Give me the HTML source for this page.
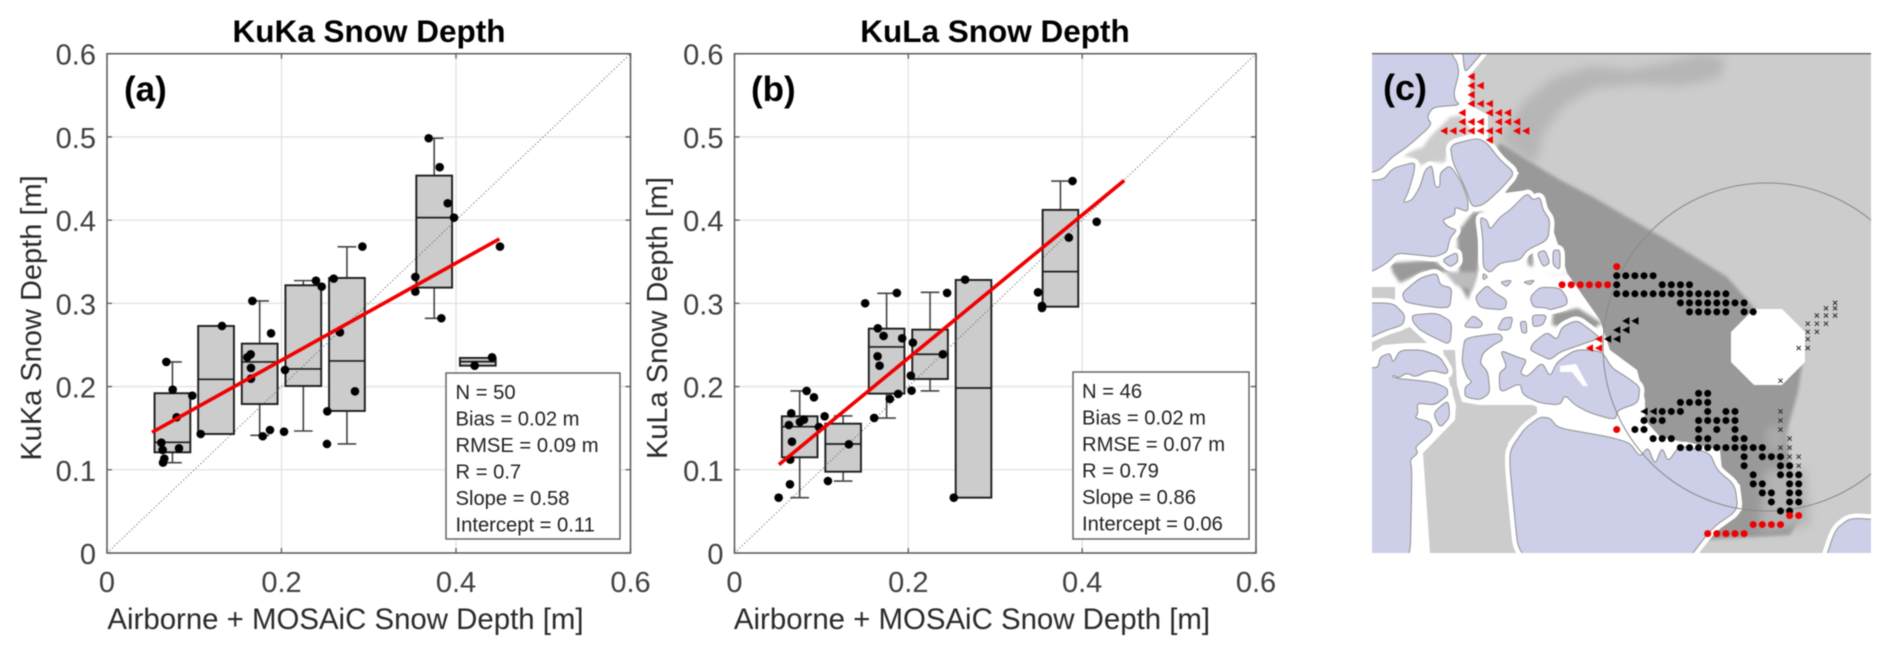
<!DOCTYPE html>
<html lang="en">
<head>
<meta charset="utf-8">
<title>KuKa and KuLa Snow Depth</title>
<style>
html,body{margin:0;padding:0;background:#fff;width:1892px;height:659px;overflow:hidden}
#fig{display:block;filter:blur(0.4px);font-family:"Liberation Sans",Arial,sans-serif}
</style>
</head>
<body>
<svg id="fig" xmlns="http://www.w3.org/2000/svg" width="1892" height="659" viewBox="0 0 1892 659">
  <rect width="1892" height="659" fill="#fff"/>
  <g id="panel-a"></g>
  <g id="panel-b"></g>

  <text x="369" y="42" font-size="31.5" font-weight="bold" text-anchor="middle" fill="#000">KuKa Snow Depth</text>
  <text x="995" y="42" font-size="31.5" font-weight="bold" text-anchor="middle" fill="#000">KuLa Snow Depth</text>
  <text x="345.5" y="629" font-size="29.4" text-anchor="middle" fill="#2a2a2a">Airborne + MOSAiC Snow Depth [m]</text>
  <text x="972" y="629" font-size="29.4" text-anchor="middle" fill="#2a2a2a">Airborne + MOSAiC Snow Depth [m]</text>
  <text transform="translate(41,318) rotate(-90)" font-size="29" text-anchor="middle" fill="#2a2a2a">KuKa Snow Depth [m]</text>
  <text transform="translate(667,318) rotate(-90)" font-size="29" text-anchor="middle" fill="#2a2a2a">KuLa Snow Depth [m]</text>
  <text x="124" y="101" font-size="35" font-weight="bold" fill="#000">(a)</text>
  <text x="751" y="101" font-size="35" font-weight="bold" fill="#000">(b)</text>

  <g id="stats-a">
    <rect x="446" y="373" width="174" height="166" fill="#fff" stroke="#666" stroke-width="1.5"/>
    <g font-size="20.2" fill="#222">
      <text x="455.5" y="399">N = 50</text>
      <text x="455.5" y="425.5">Bias = 0.02 m</text>
      <text x="455.5" y="452">RMSE = 0.09 m</text>
      <text x="455.5" y="478.5">R = 0.7</text>
      <text x="455.5" y="505">Slope = 0.58</text>
      <text x="455.5" y="531.5">Intercept = 0.11</text>
    </g>
  </g>
  <g id="stats-b">
    <rect x="1073" y="372" width="176" height="167" fill="#fff" stroke="#666" stroke-width="1.5"/>
    <g font-size="20.2" fill="#222">
      <text x="1082" y="398">N = 46</text>
      <text x="1082" y="424.5">Bias = 0.02 m</text>
      <text x="1082" y="451">RMSE = 0.07 m</text>
      <text x="1082" y="477.5">R = 0.79</text>
      <text x="1082" y="504">Slope = 0.86</text>
      <text x="1082" y="530.5">Intercept = 0.06</text>
    </g>
  </g>

  <defs>
    <clipPath id="map-clip"><rect x="1372" y="53" width="499" height="500"/></clipPath>
    <filter id="soft" x="-30%" y="-30%" width="160%" height="160%"><feGaussianBlur stdDeviation="5"/></filter>
    <filter id="soft2" x="-30%" y="-30%" width="160%" height="160%"><feGaussianBlur stdDeviation="1.5"/></filter>
    <g id="lands">
      <path d="M1360 43L1452 43L1452 55L1457 62L1459 73L1454 92L1455 100L1460 105L1433 107L1427 117L1432 125L1407 147L1392 157L1380 170L1360 176Z"/>
      <path d="M1462 43L1490 43L1466 72L1464 67Z"/>
      <path d="M1360 180L1383 180L1393 168L1415 162L1414 173L1408 193L1403 203L1412 200L1420 187L1425 170L1432 165L1435 187L1440 187L1440 173L1450 165L1462 183L1468 200L1468 212L1455 207L1455 215L1442 220L1448 227L1457 230L1450 238L1447 252L1435 257L1418 255L1397 253L1387 263L1373 271L1360 275Z"/>
      <path d="M1450 145L1477 138L1487 143L1500 160L1515 173L1500 190L1483 205L1472 207L1465 187L1453 163Z"/>
      <path d="M1480 217L1487 220L1490 230L1500 217L1510 210L1527 193L1533 200L1540 197L1543 210L1550 220L1548 240L1527 250L1520 260L1500 263L1490 273L1483 267L1483 240Z"/>
      <path d="M1402 293L1420 278L1437 273L1440 285L1452 288L1450 307L1440 308L1420 305L1405 302Z"/>
      <path d="M1442 260L1457 252L1458 262L1450 267Z"/>
      <path d="M1360 303L1393 303L1405 315L1403 325L1387 330L1360 342Z"/>
      <path d="M1412 315L1437 313L1452 322L1450 345L1433 337L1420 330L1413 322Z"/>
      <path d="M1360 367L1378 368L1380 357L1390 353L1393 363L1400 350L1423 350L1440 357L1448 370L1447 374L1430 370L1415 377L1407 373L1398 378L1393 375L1393 378L1433 382L1447 388L1448 395L1435 405L1417 403L1418 413L1415 418L1430 422L1433 432L1415 447L1418 453L1410 460L1412 470L1410 570L1360 570Z"/>
      <path d="M1433 413L1448 400L1450 417L1440 428Z"/>
      <path d="M1465 338L1500 333L1503 340L1493 345L1483 353L1480 363L1488 372L1490 393L1480 400L1465 397L1465 387L1472 382L1467 377L1462 363L1463 350Z"/>
      <path d="M1500 350L1517 357L1527 360L1520 373L1527 377L1542 362L1550 377L1557 362L1575 350L1593 350L1603 353L1612 368L1628 378L1640 387L1638 403L1618 410L1615 420L1590 413L1575 405L1565 395L1560 405L1540 403L1523 395L1520 383L1500 393L1499 373L1507 367Z"/>
      <path d="M1533 343L1547 332L1557 340L1562 327L1577 320L1593 332L1600 338L1580 345L1560 352L1550 360L1540 355L1530 350Z"/>
      <path d="M1510 450L1525 428L1540 417L1550 418L1558 428L1610 437L1630 443L1640 457L1648 447L1655 465L1662 447L1668 462L1680 445L1710 453L1717 470L1735 485L1738 510L1712 528L1680 570L1520 570L1510 470Z"/>
      <path d="M1822 570L1835 530L1850 518L1885 520L1885 570Z"/>
      <path d="M1537 253L1545 250L1550 263L1543 267Z"/>
      <path d="M1553 250L1560 250L1560 270L1553 265Z"/>
      <path d="M1483 273L1488 277L1483 280Z"/>
      <path d="M1500 282L1512 280L1507 287Z"/>
      <path d="M1523 282L1535 280L1530 285Z"/>
      <path d="M1475 297L1487 285L1495 293L1507 300L1505 310L1480 308Z"/>
      <path d="M1530 297L1540 287L1560 288L1567 298L1567 305L1550 310L1547 308L1533 307Z"/>
      <path d="M1463 327L1473 315L1483 323L1480 328Z"/>
      <path d="M1497 330L1503 318L1513 317L1510 330Z"/>
      <path d="M1532 315L1547 315L1543 325L1533 327Z"/>
      <path d="M1520 322L1526 321L1527 333L1522 333Z"/>
    </g>
  </defs>

  <g id="map" clip-path="url(#map-clip)">
    <rect x="1372" y="53" width="499" height="500" fill="#cccccc"/>
    <path filter="url(#soft)" fill="#b6b6b6" d="M1502 135L1525 100L1553 78L1590 66L1630 70L1670 62L1700 53L1725 58L1720 78L1680 86L1640 84L1595 88L1565 105L1545 130L1535 165L1505 145Z"/>
    <path filter="url(#soft2)" fill="#999999" d="M1490 160L1500 143L1527 160L1560 180L1593 197L1627 217L1667 240L1700 260L1727 277L1750 303L1785 345L1805 345L1798 392L1786 434L1792 476L1804 512L1790 535L1700 540L1640 440L1560 330L1480 240L1470 200Z"/>
    <path filter="url(#soft)" fill="#b4b4b4" d="M1765 470L1805 470L1810 525L1760 530Z"/>
    <path filter="url(#soft)" fill="#acacac" d="M1767 427L1785 427L1785 450L1767 450Z"/>
    <path fill="#ffffff" d="M1372 53L1486 55L1470 72L1470 105L1488 115L1488 143L1519 173L1505 193L1527 190L1545 207L1560 250L1567 273L1600 320L1610 350L1637 370L1645 400L1645 420L1660 437L1720 450L1722 470L1740 485L1742 510L1715 532L1690 553L1372 553Z"/>
    <path filter="url(#soft2)" fill="#999" d="M1457 233L1473 212L1483 212L1483 230L1478 270L1468 300L1460 285L1458 255Z"/>
    <path filter="url(#soft2)" fill="#9a9a9a" d="M1390 263L1433 260L1453 273L1440 272L1423 272L1400 283L1393 273Z"/>
    <path filter="url(#soft2)" fill="#bcbcbc" d="M1445 272L1478 272L1472 290L1455 285Z"/>
    <path filter="url(#soft2)" fill="#999" d="M1540 275L1600 272L1605 325L1578 308L1560 312L1553 312L1552 325L1565 328L1590 332L1605 320L1612 300L1612 270Z"/>
    <path filter="url(#soft2)" fill="#999" d="M1527 250L1533 250L1533 267L1528 265Z"/>
    <path fill="#cccccc" filter="url(#soft2)" d="M1402 155L1423 147L1430 137L1450 117L1460 115L1473 133L1450 142L1445 163L1437 162L1420 165L1413 158Z"/>
    <path fill="#cccccc" d="M1372 287L1395 287L1395 300L1372 300Z"/>
    <path fill="#cccccc" d="M1372 340L1395 332L1410 327L1427 343L1407 343L1383 345L1372 352Z"/>
    <path fill="#cccccc" d="M1443 350L1455 350L1457 385L1462 402L1480 405L1537 405L1537 420L1520 427L1508 443L1512 470L1520 553L1430 553L1423 453L1455 420L1456 405L1450 385Z"/>
    <use href="#lands" fill="#fff" stroke="#fff" stroke-width="10" stroke-linejoin="round"/>
    <use href="#lands" fill="#cdcfe8" stroke="#8f8f8f" stroke-width="1" stroke-linejoin="round"/>
    <path fill="#fff" d="M1560 366L1576 364L1588 386L1583 386L1572 372L1560 372Z"/>
    <path fill="#fff" d="M1754 309L1782 309L1805 332L1805 362L1782 385L1754 385L1731 362L1731 332Z"/>
    <circle cx="1767" cy="347" r="164" fill="none" stroke="#888" stroke-width="1"/>
    <g id="map-markers"></g>
    <line x1="1372" y1="53.5" x2="1871" y2="53.5" stroke="#555" stroke-width="1.5"/>
  </g>
  <text x="1383" y="100" font-size="36" font-weight="bold" fill="#000">(c)</text>
</svg>

<script>
// Shared axis ticks
var xTickValues = [0, 0.2, 0.4, 0.6];
var xTickLabels = ["0", "0.2", "0.4", "0.6"];
var yTickValues = [0, 0.1, 0.2, 0.3, 0.4, 0.5, 0.6];
var yTickLabels = ["0", "0.1", "0.2", "0.3", "0.4", "0.5", "0.6"];

// Panel (a) KuKa box plots
var kukaBoxCenter = [0.075, 0.125, 0.175, 0.225, 0.275, 0.375, 0.425];
var kukaQ1 = [0.121, 0.143, 0.179, 0.2007, 0.1707, 0.3189, 0.2251];
var kukaMedian = [0.133, 0.2087, 0.2296, 0.2212, 0.2308, 0.403, 0.23];
var kukaQ3 = [0.192, 0.2728, 0.2516, 0.3217, 0.3305, 0.4535, 0.2344];
var kukaWhiskerLow = [0.1085, null, 0.1414, 0.1466, 0.131, 0.282, null];
var kukaWhiskerHigh = [0.2296, null, 0.3029, 0.3273, 0.368, 0.4984, null];
// Panel (a) KuKa samples
var kukaPointX = [0.068,0.0753,0.0978,0.0798,0.0623,0.0825,0.0638,0.0657,0.0642,0.1318,0.1074,0.1666,0.188,0.1647,0.1608,0.165,0.165,0.1868,0.1785,0.2395,0.2461,0.204,0.2029,0.2598,0.267,0.2842,0.2525,0.2521,0.2927,0.3687,0.3813,0.3905,0.3977,0.3534,0.3534,0.3832,0.4504,0.4413,0.4214];
var kukaPointY = [0.2296,0.1963,0.1891,0.1631,0.1326,0.1258,0.1238,0.1134,0.1086,0.2728,0.143,0.3029,0.264,0.2388,0.2352,0.2224,0.2095,0.1478,0.1403,0.3273,0.3201,0.22,0.1458,0.3297,0.2652,0.1943,0.1703,0.131,0.3682,0.4984,0.4636,0.4203,0.403,0.3317,0.3141,0.2821,0.3682,0.2352,0.2251];
var kukaFitX = [0.0516, 0.4497];
var kukaFitY = [0.145, 0.3774];

// Panel (b) KuLa box plots
var kulaBoxCenter = [0.075, 0.125, 0.175, 0.225, 0.275, 0.375];
var kulaQ1 = [0.115, 0.0977, 0.1915, 0.2091, 0.0665, 0.296];
var kulaMedian = [0.1518, 0.131, 0.2476, 0.2388, 0.1983, 0.3381];
var kulaQ3 = [0.1643, 0.1554, 0.2696, 0.2684, 0.3281, 0.4123];
var kulaWhiskerLow = [0.0665, 0.0865, 0.1622, 0.1947, null, null];
var kulaWhiskerHigh = [0.1947, 0.1647, 0.3121, 0.3133, null, 0.447];
// Panel (b) KuLa samples
var kulaPointX = [0.083,0.0914,0.0653,0.0799,0.0753,0.0626,0.1037,0.0971,0.0661,0.1316,0.0641,0.0638,0.0508,0.1075,0.1607,0.1787,0.1883,0.2037,0.2029,0.2052,0.1929,0.1715,0.1649,0.1646,0.1669,0.2397,0.2523,0.1503,0.1868,0.2446,0.2653,0.3492,0.3538,0.3538,0.3889,0.3847,0.4167];
var kulaPointY = [0.1947,0.1871,0.1679,0.1603,0.1575,0.1538,0.1643,0.1514,0.1338,0.1306,0.1122,0.0825,0.0665,0.0865,0.1623,0.1851,0.1911,0.1951,0.2131,0.2528,0.258,0.2608,0.27,0.2364,0.2251,0.2388,0.0665,0.3001,0.3125,0.3125,0.3285,0.3133,0.2969,0.2945,0.447,0.379,0.398];
var kulaFitX = [0.0511, 0.4484];
var kulaFitY = [0.1062, 0.4477];

// Map (c) station markers: [grid row, [grid columns]]
var blackDotCells = [[0,[0,1,2,3,4]],[1,[0,5,6,7,8]],[2,[0,1,2,3,4,5,6,7,8,9,10,11,12]],[3,[7,8,9,10,11,12,13,14]],[4,[8,9,10,11,12,14,15]],[13,[9,10]],[14,[7,8,9,10]],[15,[5,6,7,10,12,13]],[16,[3,4,5,9,10,11,12,13]],[17,[2,3,9,11,13]],[18,[4,5,6,9,10,13,14]],[19,[7,8,9,10,11,12,13,14,15,16]],[20,[14,16,17,18]],[21,[14,18,19]],[22,[15,18,19,20]],[23,[15,16,19,20]],[24,[16,17,19,20]],[25,[17,19,20]],[26,[18,19]]];
var redDotCells = [[-1,[0]],[1,[-6,-5,-4,-3,-2,-1]],[17,[0]],[26.5,[19,20]],[27.5,[15,16,17,18]],[28.5,[10,11,12,13,14]]];
var blackTriangleCells = [[5,[1,2]],[6,[0,1]],[7,[-1,0]],[15,[3,4]]];
var redTriangleCells = [[-22,[-16]],[-21,[-16,-15]],[-20,[-16]],[-19,[-16,-15,-14]],[-18,[-17,-14,-13,-12]],[-17,[-17,-16,-15,-13,-12,-11]],[-16,[-19,-18,-17,-16,-15,-14,-13,-11,-10]],[-15,[-14]],[7,[-2]],[8,[-3,-2]]];
var crossCells = [[3,[24]],[3.6,[23,24]],[4.4,[22,23,24]],[5.3,[21,22,23]],[6.2,[21,22]],[7,[21]],[8,[20,21]],[11.6,[18]],[15,[18]],[16,[18]],[17,[18]],[18,[19]],[19,[18,19]],[20,[19,20]],[21,[20]]];

var SVGNS = "http://www.w3.org/2000/svg";
function mk(parent, tag, attrs) {
  var el = document.createElementNS(SVGNS, tag);
  for (var k in attrs) { el.setAttribute(k, attrs[k]); }
  parent.appendChild(el);
  return el;
}

// Round the corners of the land outlines
Array.prototype.forEach.call(document.querySelectorAll("#lands path"), function (p) {
  var nums = p.getAttribute("d").match(/[\d.]+/g).map(Number), pts = [], i;
  for (i = 0; i < nums.length; i += 2) { pts.push([nums[i], nums[i + 1]]); }
  var d = "", n = pts.length, f = 0.32;
  for (i = 0; i < n; i++) {
    var a = pts[(i + n - 1) % n], b = pts[i], c = pts[(i + 1) % n];
    var sx0 = b[0] + (a[0] - b[0]) * f, sy0 = b[1] + (a[1] - b[1]) * f;
    var ex0 = b[0] + (c[0] - b[0]) * f, ey0 = b[1] + (c[1] - b[1]) * f;
    d += (i === 0 ? "M" : "L") + sx0 + " " + sy0 + "Q" + b[0] + " " + b[1] + " " + ex0 + " " + ey0;
  }
  p.setAttribute("d", d + "Z");
});

function drawPanel(root, frame, d) {
  function sx(v) { return frame.left + (frame.right - frame.left) * v / 0.6; }
  function sy(v) { return frame.bottom - (frame.bottom - frame.top) * v / 0.6; }
  var el, i;
  xTickValues.forEach(function (v, idx) {
    el = mk(root, "line", {x1: sx(v), x2: sx(v), y1: frame.top, y2: frame.bottom, stroke: "#e2e2e2", "stroke-width": 1.3});
    
    
    el = mk(root, "text", {x: sx(v), y: frame.bottom + 39, "font-size": 29, "text-anchor": "middle", fill: "#404040"});
    
    
    el.textContent = xTickLabels[idx];
  });
  yTickValues.forEach(function (v, idx) {
    el = mk(root, "line", {x1: frame.left, x2: frame.right, y1: sy(v), y2: sy(v), stroke: "#e2e2e2", "stroke-width": 1.3});
    
    
    el = mk(root, "text", {x: frame.left - 11, y: sy(v) + 11, "font-size": 29, "text-anchor": "end", fill: "#404040"});
    
    
    el.textContent = yTickLabels[idx];
  });
  for (i = 0; i < d.center.length; i++) {
    var c = d.center[i], hw = 0.0205, cap = 0.0107;
    if (d.whiskerHigh[i] !== null) {
      el = mk(root, "line", {x1: sx(c), x2: sx(c), y1: sy(d.q3[i]), y2: sy(d.whiskerHigh[i]), stroke: "#444", "stroke-width": 1.6});
      
      
      el = mk(root, "line", {x1: sx(c - cap), x2: sx(c + cap), y1: sy(d.whiskerHigh[i]), y2: sy(d.whiskerHigh[i]), stroke: "#444", "stroke-width": 1.6});
      
      
    }
    if (d.whiskerLow[i] !== null) {
      el = mk(root, "line", {x1: sx(c), x2: sx(c), y1: sy(d.q1[i]), y2: sy(d.whiskerLow[i]), stroke: "#444", "stroke-width": 1.6});
      
      
      el = mk(root, "line", {x1: sx(c - cap), x2: sx(c + cap), y1: sy(d.whiskerLow[i]), y2: sy(d.whiskerLow[i]), stroke: "#444", "stroke-width": 1.6});
      
      
    }
    el = mk(root, "rect", {x: sx(c - hw), y: sy(d.q3[i]), width: sx(c + hw) - sx(c - hw), height: sy(d.q1[i]) - sy(d.q3[i]), fill: "#cccccc", stroke: "#1c1c1c", "stroke-width": 1.9});
    
    
    el = mk(root, "line", {x1: sx(c - hw), x2: sx(c + hw), y1: sy(d.median[i]), y2: sy(d.median[i]), stroke: "#1c1c1c", "stroke-width": 1.7});
    
    
  }
  el = mk(root, "line", {x1: sx(0), y1: sy(0), x2: sx(0.6), y2: sy(0.6), stroke: "#555", "stroke-width": 1, "stroke-dasharray": "1 2.4"});
  
  
  for (i = 0; i < d.px.length; i++) {
    el = mk(root, "circle", {cx: sx(d.px[i]), cy: sy(d.py[i]), r: 4.3, fill: "#000"});
    
    
  }
  el = mk(root, "line", {x1: sx(d.fitX[0]), y1: sy(d.fitY[0]), x2: sx(d.fitX[1]), y2: sy(d.fitY[1]), stroke: "#f00000", "stroke-width": 3.6});
  
  
  el = mk(root, "rect", {x: frame.left, y: frame.top, width: frame.right - frame.left, height: frame.bottom - frame.top, fill: "none", stroke: "#5a5a5a", "stroke-width": 1.5});
  
  
  xTickValues.forEach(function (v) {
    el = mk(root, "path", {d: "M" + sx(v) + " " + frame.bottom + "v-5M" + sx(v) + " " + frame.top + "v5", stroke: "#5a5a5a", "stroke-width": 1.3, fill: "none"});
    
    
  });
  yTickValues.forEach(function (v) {
    el = mk(root, "path", {d: "M" + frame.left + " " + sy(v) + "h5M" + frame.right + " " + sy(v) + "h-5", stroke: "#5a5a5a", "stroke-width": 1.3, fill: "none"});
    
    
  });
}

drawPanel(document.getElementById("panel-a"), {left: 107, right: 630.5, top: 53.7, bottom: 553}, {
  center: kukaBoxCenter, q1: kukaQ1, median: kukaMedian, q3: kukaQ3,
  whiskerLow: kukaWhiskerLow, whiskerHigh: kukaWhiskerHigh,
  px: kukaPointX, py: kukaPointY, fitX: kukaFitX, fitY: kukaFitY
});
drawPanel(document.getElementById("panel-b"), {left: 734.5, right: 1256, top: 53.7, bottom: 553}, {
  center: kulaBoxCenter, q1: kulaQ1, median: kulaMedian, q3: kulaQ3,
  whiskerLow: kulaWhiskerLow, whiskerHigh: kulaWhiskerHigh,
  px: kulaPointX, py: kulaPointY, fitX: kulaFitX, fitY: kulaFitY
});

// Map markers
var markerRoot = document.getElementById("map-markers");
function gridX(c) { return 1616.7 + 9.1 * c; }
function gridY(r) { return 275.7 + 9.05 * r; }
function eachCell(cells, fn) {
  cells.forEach(function (row) {
    row[1].forEach(function (col) { fn(gridX(col), gridY(row[0])); });
  });
}
eachCell(blackDotCells, function (x, y) {
  var el = mk(markerRoot, "circle", {cx: x, cy: y, r: 3.5, fill: "#000"});
  
  
});
eachCell(redDotCells, function (x, y) {
  var el = mk(markerRoot, "circle", {cx: x, cy: y, r: 3.5, fill: "#f00000"});
  
  
});
function triangle(x, y, color) {
  return mk(markerRoot, "path", {d: "M" + (x - 3.6) + " " + y + "L" + (x + 3.6) + " " + (y - 3.8) + "V" + (y + 3.8) + "Z", fill: color});
}
eachCell(blackTriangleCells, function (x, y) {
  var el = triangle(x, y, "#000");
  
  
});
eachCell(redTriangleCells, function (x, y) {
  var el = triangle(x, y, "#f00000");
  
  
});
eachCell(crossCells, function (x, y) {
  var s = 2.1;
  var el = mk(markerRoot, "path", {d: "M" + (x - s) + " " + (y - s) + "l" + (2 * s) + " " + (2 * s) + "M" + (x - s) + " " + (y + s) + "l" + (2 * s) + " " + (-2 * s), stroke: "#222", "stroke-width": 0.9, fill: "none"});
  
  
});
</script>
</body>
</html>
